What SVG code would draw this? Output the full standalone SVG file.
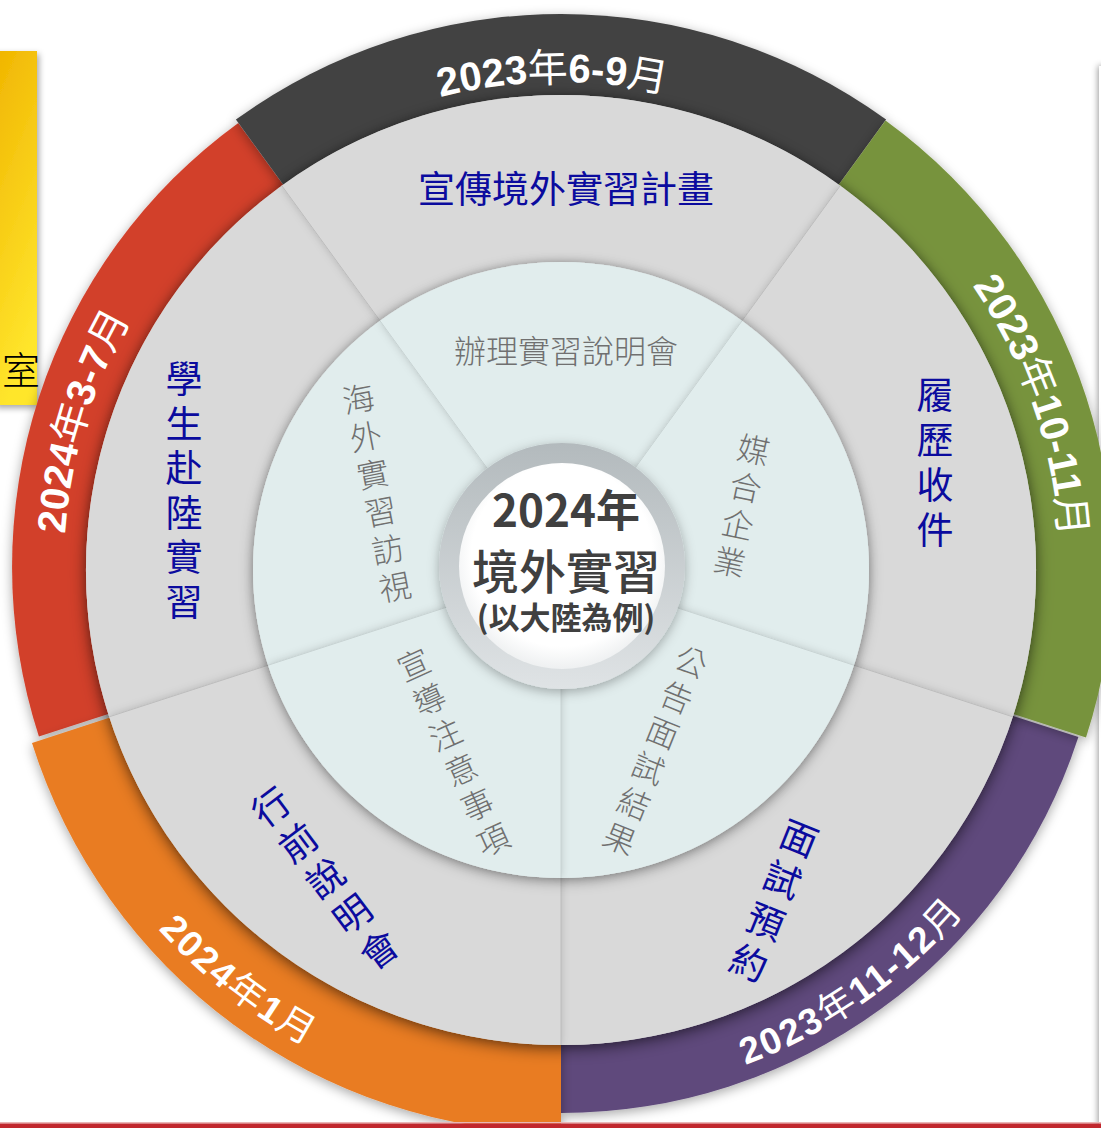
<svg xmlns="http://www.w3.org/2000/svg" xmlns:xlink="http://www.w3.org/1999/xlink" width="1101" height="1128" viewBox="0 0 1101 1128">
<style>
.band-label{font-family:"Liberation Sans","Noto Sans CJK TC",sans-serif;font-size:40px;font-weight:bold;fill:#ffffff;}
.band-ccw{font-size:37px;letter-spacing:2px;}
.cjk{font-family:"Noto Sans CJK TC",sans-serif;font-weight:400;}
.outer-t{font-family:"Noto Sans CJK TC",sans-serif;font-size:37px;fill:#0b0b9e;text-anchor:middle;dominant-baseline:central;}
.inner-t{font-family:"Noto Sans CJK TC",sans-serif;font-size:32px;font-weight:300;fill:#707070;text-anchor:middle;dominant-baseline:central;}
.gray-seg{fill:#d9d9d9;}
.light-seg{fill:#e1eded;}
.div-g{stroke:#bdbdbd;stroke-width:1;fill:none;}
.div-l{stroke:#c8d3d3;stroke-width:1;fill:none;}
.center-t{font-family:"Noto Sans CJK TC",sans-serif;fill:#404040;text-anchor:middle;}
</style>
<defs>
<filter id="bandShadow" x="-15%" y="-15%" width="130%" height="130%"><feDropShadow dx="0" dy="3" stdDeviation="6" flood-color="#000" flood-opacity="0.35"/></filter>
<filter id="discShadow" x="-15%" y="-15%" width="130%" height="130%"><feDropShadow dx="0" dy="4" stdDeviation="8" flood-color="#000" flood-opacity="0.5"/></filter>
<filter id="segShadow" x="-15%" y="-15%" width="130%" height="130%"><feDropShadow dx="0" dy="0" stdDeviation="4" flood-color="#000" flood-opacity="0.18"/></filter>
<filter id="lightShadow" x="-15%" y="-15%" width="130%" height="130%"><feDropShadow dx="0" dy="3" stdDeviation="7" flood-color="#000" flood-opacity="0.35"/></filter>
<filter id="ringShadow" x="-20%" y="-20%" width="140%" height="140%"><feDropShadow dx="0" dy="3" stdDeviation="6" flood-color="#000" flood-opacity="0.3"/></filter>
<filter id="noteShadow" x="-30%" y="-10%" width="160%" height="120%"><feDropShadow dx="2" dy="3" stdDeviation="3" flood-color="#000" flood-opacity="0.35"/></filter>
<filter id="panelShadow" x="-100%" y="-10%" width="300%" height="120%"><feDropShadow dx="-1" dy="0" stdDeviation="3" flood-color="#000" flood-opacity="0.4"/></filter>
<linearGradient id="noteGrad" x1="0" y1="0" x2="0.3" y2="1"><stop offset="0" stop-color="#f0b400"/><stop offset="1" stop-color="#ffe62c"/></linearGradient>
<linearGradient id="ringGrad" x1="0" y1="0" x2="0" y2="1"><stop offset="0" stop-color="#b3babd"/><stop offset="1" stop-color="#dfe3e5"/></linearGradient>
<radialGradient id="whiteGrad" cx="0.5" cy="0.45" r="0.55"><stop offset="0.8" stop-color="#ffffff"/><stop offset="1" stop-color="#eef0f1"/></radialGradient>
<path id="tp-top" d="M135.9,332.4 A486,486 0 0,1 977.6,317.7"/>
<path id="tp-green" d="M656.2,78.2 A499,499 0 0,1 937.6,895.4"/>
<path id="tp-purple" d="M337.0,1048.3 A530,530 0 0,0 1089.0,521.8"/>
<path id="tp-orange" d="M25.3,492.7 A541,541 0 0,0 763.7,1069.6"/>
<path id="tp-red" d="M197.5,907.0 A497,497 0 0,1 449.2,83.7"/>
</defs>

<rect x="0" y="0" width="1101" height="1128" fill="#ffffff"/>

<g id="side-panel">
<rect x="1099" y="66" width="30" height="1100" fill="#ffffff" filter="url(#panelShadow)"/>
</g>

<g id="sticky-note">
<rect x="-6" y="51" width="43" height="354" fill="url(#noteGrad)" filter="url(#noteShadow)"/>
<text x="2" y="384" font-family="Noto Sans CJK TC, sans-serif" font-size="38" font-weight="300" fill="#000000">室</text>
</g>

<g id="bands">
<g id="band-red"><path d="M561,567 L38.9,736.6 A549,549 0 0,1 238.3,122.9 Z" fill="#d2412c" filter="url(#bandShadow)"/></g>
<g id="band-dark"><path d="M561,567 L235.9,119.6 A553,553 0 0,1 886.1,119.6 Z" fill="#424242" filter="url(#bandShadow)"/></g>
<g id="band-purple"><path d="M561,569 L1078.4,737.1 A544,544 0 0,1 561,1113 Z" fill="#5f4a7b" filter="url(#bandShadow)"/></g>
<g id="band-green"><path d="M561,567 L885.5,120.4 A552,552 0 0,1 1086,737.6 Z" fill="#77933c" filter="url(#bandShadow)"/></g>
<g id="band-orange"><path d="M561,570 L561,1133 A558,558 0 0,1 32,743 Z" fill="#e97b22" filter="url(#bandShadow)"/></g>
</g>

<g id="outer-ring">
<circle cx="561" cy="570" r="475" fill="#d9d9d9" filter="url(#discShadow)"/>
<g id="seg-left"><path class="gray-seg" d="M561,570 L109.2,716.8 A475,475 0 0,1 281.8,185.7 Z" filter="url(#segShadow)"/></g>
<g id="seg-top"><path class="gray-seg" d="M561,570 L281.8,185.7 A475,475 0 0,1 840.2,185.7 Z" filter="url(#segShadow)"/></g>
<g id="seg-right"><path class="gray-seg" d="M561,570 L840.2,185.7 A475,475 0 0,1 1012.8,716.8 Z" filter="url(#segShadow)"/></g>
<g id="seg-bottom-right"><path class="gray-seg" d="M561,570 L1012.8,716.8 A475,475 0 0,1 561,1045 Z" filter="url(#segShadow)"/></g>
<g id="seg-bottom-left"><path class="gray-seg" d="M561,570 L561,1045 A475,475 0 0,1 109.2,716.8 Z" filter="url(#segShadow)"/></g>
</g>

<g id="connectors">
<line class="div-g" x1="281.8" y1="185.7" x2="380" y2="320.8"/>
<line class="div-g" x1="840.2" y1="185.7" x2="742" y2="320.8"/>
<line class="div-g" x1="1012.8" y1="716.8" x2="853.9" y2="665.2"/>
<line class="div-g" x1="561" y1="1045" x2="561" y2="878"/>
<line class="div-g" x1="109.2" y1="716.8" x2="268.1" y2="665.2"/>
</g>

<g id="outer-labels">
<text class="outer-t" x="566" y="187">宣傳境外實習計畫</text>
<text class="outer-t"><tspan x="935" y="393">履</tspan><tspan x="935" y="438">歷</tspan><tspan x="935" y="483">收</tspan><tspan x="935" y="528">件</tspan></text>
<text class="outer-t" transform="translate(800,836) rotate(22)"><tspan x="0" y="0">面</tspan><tspan x="0" y="44.9">試</tspan><tspan x="0" y="89.8">預</tspan><tspan x="0" y="134.7">約</tspan></text>
<text class="outer-t" transform="translate(270,805) rotate(-37)"><tspan x="0" y="0">行</tspan><tspan x="0" y="44.8">前</tspan><tspan x="0" y="89.6">說</tspan><tspan x="0" y="134.4">明</tspan><tspan x="0" y="179.2">會</tspan></text>
<text class="outer-t"><tspan x="184" y="377">學</tspan><tspan x="184" y="421.6">生</tspan><tspan x="184" y="466.2">赴</tspan><tspan x="184" y="510.8">陸</tspan><tspan x="184" y="555.4">實</tspan><tspan x="184" y="600">習</tspan></text>
</g>

<g id="inner-ring">
<circle cx="561" cy="570" r="308" fill="#e1eded" filter="url(#lightShadow)"/>
<g id="iseg-left"><path class="light-seg" d="M561,570 L268.1,665.2 A308,308 0 0,1 380,320.8 Z" filter="url(#segShadow)"/></g>
<g id="iseg-top"><path class="light-seg" d="M561,570 L380,320.8 A308,308 0 0,1 742,320.8 Z" filter="url(#segShadow)"/></g>
<g id="iseg-right"><path class="light-seg" d="M561,570 L742,320.8 A308,308 0 0,1 853.9,665.2 Z" filter="url(#segShadow)"/></g>
<g id="iseg-bottom-right"><path class="light-seg" d="M561,570 L853.9,665.2 A308,308 0 0,1 561,878 Z" filter="url(#segShadow)"/></g>
<g id="iseg-bottom-left"><path class="light-seg" d="M561,570 L561,878 A308,308 0 0,1 268.1,665.2 Z" filter="url(#segShadow)"/></g>
<line class="div-l" x1="380" y1="320.8" x2="561" y2="570"/>
<line class="div-l" x1="742" y1="320.8" x2="561" y2="570"/>
<line class="div-l" x1="853.9" y1="665.2" x2="561" y2="570"/>
<line class="div-l" x1="561" y1="878" x2="561" y2="570"/>
<line class="div-l" x1="268.1" y1="665.2" x2="561" y2="570"/>
</g>

<g id="inner-labels">
<text class="inner-t" x="566" y="349">辦理實習說明會</text>
<text class="inner-t" transform="translate(754,448) rotate(12)"><tspan x="0" y="0">媒</tspan><tspan x="0" y="38.2">合</tspan><tspan x="0" y="76.4">企</tspan><tspan x="0" y="114.6">業</tspan></text>
<text class="inner-t" transform="translate(692,660) rotate(22)"><tspan x="0" y="0">公</tspan><tspan x="0" y="38.2">告</tspan><tspan x="0" y="76.4">面</tspan><tspan x="0" y="114.6">試</tspan><tspan x="0" y="152.8">結</tspan><tspan x="0" y="191">果</tspan></text>
<text class="inner-t" transform="translate(413,663) rotate(-24.3)"><tspan x="0" y="0">宣</tspan><tspan x="0" y="38.4">導</tspan><tspan x="0" y="76.8">注</tspan><tspan x="0" y="115.2">意</tspan><tspan x="0" y="153.6">事</tspan><tspan x="0" y="192">項</tspan></text>
<text class="inner-t" transform="translate(358,397) rotate(-11)"><tspan x="0" y="0">海</tspan><tspan x="0" y="38.3">外</tspan><tspan x="0" y="76.6">實</tspan><tspan x="0" y="114.9">習</tspan><tspan x="0" y="153.2">訪</tspan><tspan x="0" y="191.5">視</tspan></text>
</g>

<g id="center">
<circle cx="562" cy="566" r="123" fill="url(#ringGrad)" filter="url(#ringShadow)"/>
<circle cx="562" cy="566" r="103" fill="url(#whiteGrad)"/>
<text class="center-t" x="566" y="527" font-size="44" font-weight="bold">2024年</text>
<text class="center-t" x="566" y="589" font-size="47" font-weight="500">境外實習</text>
<text class="center-t" x="566" y="629" font-size="31" font-weight="bold">(以大陸為例)</text>
</g>

<g id="band-labels">
<text class="band-label"><textPath href="#tp-top" xlink:href="#tp-top" startOffset="50%" text-anchor="middle">2023<tspan class="cjk">年</tspan>6-9<tspan class="cjk">月</tspan></textPath></text>
<text class="band-label"><textPath href="#tp-green" xlink:href="#tp-green" startOffset="50%" text-anchor="middle">2023<tspan class="cjk">年</tspan>10-11<tspan class="cjk">月</tspan></textPath></text>
<text class="band-label band-ccw"><textPath href="#tp-purple" xlink:href="#tp-purple" startOffset="50%" text-anchor="middle">2023<tspan class="cjk">年</tspan>11-12<tspan class="cjk">月</tspan></textPath></text>
<text class="band-label band-ccw"><textPath href="#tp-orange" xlink:href="#tp-orange" startOffset="50%" text-anchor="middle">2024<tspan class="cjk">年</tspan>1<tspan class="cjk">月</tspan></textPath></text>
<text class="band-label"><textPath href="#tp-red" xlink:href="#tp-red" startOffset="50%" text-anchor="middle">2024<tspan class="cjk">年</tspan>3-7<tspan class="cjk">月</tspan></textPath></text>
</g>

<g id="bottom-rule">
<rect x="0" y="1122" width="1101" height="1.5" fill="#e9b5b5"/>
<rect x="0" y="1123.5" width="1101" height="4.5" fill="#c1272d"/>
</g>
</svg>
